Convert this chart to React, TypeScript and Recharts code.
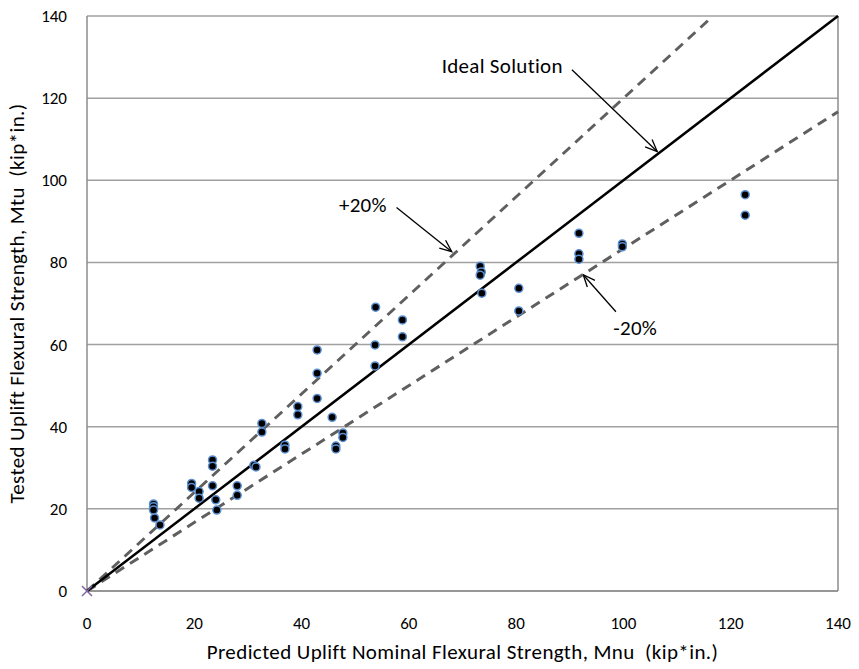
import {
  ScatterChart,
  Scatter,
  XAxis,
  YAxis,
  CartesianGrid,
  ReferenceLine,
  ReferenceDot,
} from 'recharts';

// measured test results: predicted Mnu vs tested Mtu (kip*in.)
const predicted = [
  12.4, 12.4, 12.4, 12.6, 13.6, 19.5, 19.5, 20.9, 20.9, 23.4, 23.4, 23.4, 24.0, 24.2,
  28.0, 28.0, 31.1, 31.5, 32.6, 32.6, 36.9, 36.9, 39.3, 39.3, 42.9, 42.9, 42.9, 45.7,
  46.4, 46.4, 47.7, 47.7, 53.8, 53.7, 53.7, 58.8, 58.8, 73.3, 73.5, 73.3, 73.6, 80.5,
  80.5, 91.7, 91.7, 91.7, 99.8, 99.8, 122.7, 122.7,
];
const tested = [
  21.2, 20.5, 19.7, 17.8, 16.1, 26.2, 25.2, 24.2, 22.6, 31.9, 30.4, 25.6, 22.2, 19.7,
  25.6, 23.3, 30.6, 30.2, 40.8, 38.7, 35.5, 34.6, 44.9, 42.9, 58.7, 53.0, 46.9, 42.3,
  35.3, 34.6, 38.5, 37.4, 69.1, 59.9, 54.8, 66.0, 61.9, 79.1, 77.7, 76.9, 72.5, 73.7,
  68.2, 87.1, 82.1, 80.8, 84.5, 83.8, 96.5, 91.5,
];

// ideal and +/-20% bound lines (end points)
const idealX = [0, 140];
const idealY = [0, 140];
const plusX = [0, 116.7];
const plusY = [0, 140];
const minusX = [0, 140];
const minusY = [0, 116.7];

const ticks = [0, 20, 40, 60, 80, 100, 120, 140];

const points = predicted.map((x, i) => ({ x, y: tested[i] }));
const toPts = (xs: number[], ys: number[]) => xs.map((x, i) => ({ x, y: ys[i] }));

const FONT = 'Carlito, Calibri, Lato, sans-serif';

const Dot = (p: any) => (
  <circle cx={p.cx} cy={p.cy} r={4} fill="#000" stroke="#5B8FD0" strokeWidth={1.5} />
);
const None = () => <g />;
const XMark = (p: any) => (
  <g stroke="#8064A2" strokeWidth={1.5}>
    <line x1={p.cx - 5} y1={p.cy - 5} x2={p.cx + 5} y2={p.cy + 5} />
    <line x1={p.cx - 5} y1={p.cy + 5} x2={p.cx + 5} y2={p.cy - 5} />
  </g>
);

const Arrow = (p: any) => {
  const { x1, y1, x2, y2 } = p;
  const a = Math.atan2(y2 - y1, x2 - x1);
  const L = 13;
  const s = 0.4;
  return (
    <g stroke="#000" strokeWidth={1.3} fill="none">
      <line x1={x1} y1={y1} x2={x2} y2={y2} />
      <polyline
        points={`${x2 - L * Math.cos(a - s)},${y2 - L * Math.sin(a - s)} ${x2},${y2} ${x2 - L * Math.cos(a + s)},${y2 - L * Math.sin(a + s)}`}
      />
    </g>
  );
};

const label = (text: string, anchor: 'start' | 'end' | 'middle') => (p: any) => (
  <text
    x={p.cx}
    y={p.cy}
    dy="0.35em"
    textAnchor={anchor}
    fontFamily={FONT}
    fontSize={21}
    letterSpacing={0.3}
    fill="#000"
  >
    {text}
  </text>
);

export default function App() {
  return (
    <div style={{ position: 'fixed', left: 0, top: 0, background: '#fff' }}>
      <ScatterChart width={859} height={669} margin={{ top: 16, right: 21, bottom: 0, left: 0 }}>
        <CartesianGrid vertical={false} stroke="#A0A0A0" strokeWidth={1.5} />
        <XAxis
          type="number"
          dataKey="x"
          domain={[0, 140]}
          ticks={ticks}
          height={78}
          tickSize={0}
          tickMargin={26}
          axisLine={{ stroke: '#8C8C8C', strokeWidth: 1.5 }}
          tick={{ fill: '#000', fontSize: 17, fontFamily: FONT }}
          label={{
            value: 'Predicted Uplift Nominal Flexural Strength, Mnu\u00a0\u00a0(kip*in.)',
            position: 'insideBottom',
            offset: 10,
            style: { fill: '#000', fontSize: 21, letterSpacing: 0.4, fontFamily: FONT },
          }}
        />
        <YAxis
          type="number"
          dataKey="y"
          domain={[0, 140]}
          ticks={ticks}
          width={87}
          tickSize={0}
          tickMargin={20}
          axisLine={{ stroke: '#8C8C8C', strokeWidth: 1.5 }}
          tick={{ fill: '#000', fontSize: 17, fontFamily: FONT }}
          label={{
            value: 'Tested Uplift Flexural Strength, Mtu\u00a0\u00a0(kip*in.)',
            angle: -90,
            position: 'insideLeft',
            offset: 17,
            style: { fill: '#000', fontSize: 21, letterSpacing: 0.4, fontFamily: FONT, textAnchor: 'middle' },
          }}
        />
        <ReferenceLine x={140} stroke="#8C8C8C" strokeWidth={1.5} />
        <Scatter
          data={toPts(plusX, plusY)}
          shape={None}
          line={{ stroke: '#5F5F5F', strokeWidth: 3, strokeDasharray: '10 7' }}
          isAnimationActive={false}
        />
        <Scatter
          data={toPts(minusX, minusY)}
          shape={None}
          line={{ stroke: '#5F5F5F', strokeWidth: 3, strokeDasharray: '10 7' }}
          isAnimationActive={false}
        />
        <Scatter
          data={toPts(idealX, idealY)}
          shape={None}
          line={{ stroke: '#000', strokeWidth: 2.5 }}
          isAnimationActive={false}
        />
        <Scatter data={points} shape={Dot} isAnimationActive={false} />
        <Scatter data={[{ x: 0, y: 0 }]} shape={XMark} isAnimationActive={false} />

        <ReferenceLine segment={[{ x: 90.4, y: 126.9 }, { x: 106.3, y: 107.0 }]} shape={Arrow} />
        <ReferenceLine segment={[{ x: 57.7, y: 93.4 }, { x: 68.0, y: 82.6 }]} shape={Arrow} />
        <ReferenceLine segment={[{ x: 98.6, y: 68.0 }, { x: 92.5, y: 77.0 }]} shape={Arrow} />
        <ReferenceDot x={88.7} y={127.8} shape={label('Ideal Solution', 'end')} />
        <ReferenceDot x={55.9} y={94.0} shape={label('+20%', 'end')} />
        <ReferenceDot x={98.1} y={64.0} shape={label('-20%', 'start')} />
      </ScatterChart>
    </div>
  );
}
